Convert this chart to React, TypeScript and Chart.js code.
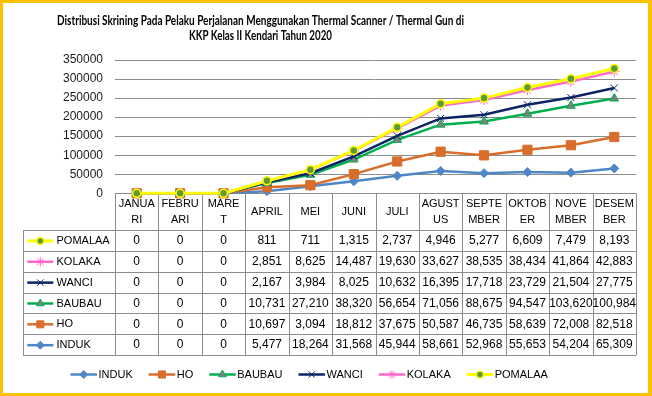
import React, { useEffect, useRef } from 'react';
import { Chart, registerables } from 'chart.js';
import { drawPoint } from 'chart.js/helpers';

Chart.register(...registerables);

const TITLE_LINES = [
  'Distribusi Skrining Pada Pelaku Perjalanan Menggunakan Thermal Scanner / Thermal Gun di',
  'KKP Kelas II Kendari Tahun 2020',
];

const MONTHS = ['JANUARI', 'FEBRUARI', 'MARET', 'APRIL', 'MEI', 'JUNI', 'JULI', 'AGUSTUS', 'SEPTEMBER', 'OKTOBER', 'NOVEMBER', 'DESEMBER'];
const MONTH_HEADER = [
  ['JANUA', 'RI'], ['FEBRU', 'ARI'], ['MARE', 'T'], ['APRIL'], ['MEI'], ['JUNI'], ['JULI'],
  ['AGUST', 'US'], ['SEPTE', 'MBER'], ['OKTOB', 'ER'], ['NOVE', 'MBER'], ['DESEM', 'BER'],
];

const INDUK = [0, 0, 0, 5477, 18264, 31568, 45944, 58661, 52968, 55653, 54204, 65309];
const HO = [0, 0, 0, 10697, 3094, 18812, 37675, 50587, 46735, 58639, 72008, 82518];
const BAUBAU = [0, 0, 0, 10731, 27210, 38320, 56654, 71056, 88675, 94547, 103620, 100984];
const WANCI = [0, 0, 0, 2167, 3984, 8025, 10632, 16395, 17718, 23729, 21504, 27775];
const KOLAKA = [0, 0, 0, 2851, 8625, 14487, 19630, 33627, 38535, 38434, 41864, 42883];
const POMALAA = [0, 0, 0, 811, 711, 1315, 2737, 4946, 5277, 6609, 7479, 8193];

const SERIES_NAMES = ['INDUK', 'HO', 'BAUBAU', 'WANCI', 'KOLAKA', 'POMALAA'];
const SERIES_VALUES = [INDUK, HO, BAUBAU, WANCI, KOLAKA, POMALAA];

const Y_MAX = 350000;
const Y_STEP = 50000;

type Sty = { line: string; lw: number; ps: any; r: number; kr: number; fill: string; border: string; bw: number };
const STYLES: Sty[] = [
  { line: '#4F87C6', lw: 2.5, ps: 'rectRot', r: 4.5, kr: 4, fill: '#4F87C6', border: '#4F87C6', bw: 1 },
  { line: '#D86D2C', lw: 2.5, ps: 'rect', r: 6.5, kr: 5, fill: '#D86D2C', border: '#D86D2C', bw: 1 },
  { line: '#00B050', lw: 2.5, ps: 'triangle', r: 5, kr: 4.5, fill: '#808080', border: '#00B050', bw: 1 },
  { line: '#0C2464', lw: 2.5, ps: 'crossRot', r: 5, kr: 4.5, fill: '#0C2464', border: '#0C2464', bw: 1 },
  { line: '#FF66CC', lw: 2.5, ps: 'star', r: 5, kr: 4.5, fill: '#FF66CC', border: '#FF66CC', bw: 1 },
  { line: '#FFFF00', lw: 3, ps: 'circle', r: 4, kr: 3.5, fill: '#5F9A38', border: '#FFFF00', bw: 1.5 },
];

const FONT = "'Liberation Sans', Arial, sans-serif";

function drawKey(ctx: CanvasRenderingContext2D, s: Sty, x0: number, x1: number, y: number) {
  ctx.save();
  ctx.strokeStyle = s.line;
  ctx.lineWidth = s.lw;
  ctx.beginPath();
  ctx.moveTo(x0, y);
  ctx.lineTo(x1, y);
  ctx.stroke();
  ctx.fillStyle = s.fill;
  ctx.strokeStyle = s.border;
  ctx.lineWidth = s.bw;
  drawPoint(ctx, { pointStyle: s.ps, radius: s.kr, borderWidth: s.bw, rotation: 0 } as any, (x0 + x1) / 2, y);
  ctx.restore();
}

const excelPlugin = {
  id: 'excelExtras',
  beforeDatasetsDraw(chart: any) {
    const ctx: CanvasRenderingContext2D = chart.ctx;
    const a = chart.chartArea;
    const n = MONTHS.length;
    const cw = (a.right - a.left) / n;
    const tableLeft = 23;
    const headTop = a.bottom;
    const headBottom = headTop + 36.7;
    const rowH = 20.85;
    const rows = SERIES_NAMES.length;
    const tableBottom = headBottom + rows * rowH;
    const crisp = (v: number) => Math.round(v) + 0.5;

    ctx.save();
    ctx.strokeStyle = '#8C8C8C';
    ctx.lineWidth = 1;
    ctx.beginPath();
    ctx.moveTo(a.left, crisp(headTop));
    ctx.lineTo(a.right, crisp(headTop));
    for (let r = 0; r <= rows; r++) {
      const y = crisp(headBottom + r * rowH);
      ctx.moveTo(tableLeft, y);
      ctx.lineTo(a.right, y);
    }
    for (let c = 0; c <= n; c++) {
      const x = crisp(a.left + c * cw);
      ctx.moveTo(x, headTop);
      ctx.lineTo(x, tableBottom);
    }
    ctx.moveTo(crisp(tableLeft), headBottom);
    ctx.lineTo(crisp(tableLeft), tableBottom);
    ctx.stroke();

    // header
    ctx.fillStyle = '#000';
    ctx.textAlign = 'center';
    ctx.textBaseline = 'middle';
    ctx.font = `11px ${FONT}`;
    const xs = chart.scales.x;
    MONTH_HEADER.forEach((lines, i) => {
      const cx = xs.getPixelForValue(i);
      if (lines.length === 1) {
        ctx.fillText(lines[0], cx, headTop + 18.5);
      } else {
        ctx.fillText(lines[0], cx, headTop + 10.5);
        ctx.fillText(lines[1], cx, headTop + 26.5);
      }
    });

    // rows (reverse order: top row = last series)
    for (let r = 0; r < rows; r++) {
      const si = rows - 1 - r;
      const cy = headBottom + r * rowH + rowH / 2 + 0.5;
      drawKey(ctx, STYLES[si], 27.3, 53.3, cy);
      ctx.fillStyle = '#000';
      ctx.textAlign = 'left';
      ctx.font = `11px ${FONT}`;
      ctx.fillText(SERIES_NAMES[si], 56.5, cy);
      ctx.textAlign = 'center';
      ctx.font = `12px ${FONT}`;
      SERIES_VALUES[si].forEach((v, i) => {
        ctx.fillText(v.toLocaleString('en-US'), xs.getPixelForValue(i), cy);
      });
    }
    ctx.restore();

    // datasets in index order so the last series sits on top
    const metas = chart.getSortedVisibleDatasetMetas().slice().sort((p: any, q: any) => p.index - q.index);
    metas.forEach((m: any) => m.controller.draw());
    return false;
  },
  afterDraw(chart: any) {
    const ctx: CanvasRenderingContext2D = chart.ctx;
    const W = chart.width;
    const H = chart.height;
    ctx.save();
    // title
    ctx.fillStyle = '#000';
    ctx.textAlign = 'center';
    ctx.textBaseline = 'middle';
    ctx.font = `bold 13px Lato, ${FONT}`;
    ctx.fillText(TITLE_LINES[0], 260.5, 21, 407);
    ctx.fillText(TITLE_LINES[1], 260.5, 35.5, 143);

    // legend
    ctx.font = `11px ${FONT}`;
    ctx.textAlign = 'left';
    const keyLen = 26.5;
    const gapText = 1.5;
    const gapItem = 16;
    const widths = SERIES_NAMES.map((s) => ctx.measureText(s).width);
    const total = widths.reduce((p, w) => p + keyLen + gapText + w, 0) + gapItem * (SERIES_NAMES.length - 1);
    let x = 309.2 - total / 2;
    const ly = 374.5;
    SERIES_NAMES.forEach((s, i) => {
      drawKey(ctx, STYLES[i], x, x + keyLen, ly);
      ctx.fillStyle = '#000';
      ctx.fillText(s, x + keyLen + gapText, ly);
      x += keyLen + gapText + widths[i] + gapItem;
    });

    // frame
    ctx.fillStyle = '#FFC000';
    ctx.fillRect(0, 0, W, 3);
    ctx.fillRect(0, H - 3, W, 3);
    ctx.fillRect(0, 0, 3, H);
    ctx.fillRect(W - 4, 0, 4, H);
    ctx.restore();
  },
};

export default function App() {
  const ref = useRef<HTMLCanvasElement | null>(null);
  useEffect(() => {
    document.body.style.margin = '0';
    const canvas = ref.current;
    if (!canvas) return;
    const chart = new Chart(canvas, {
      type: 'line',
      data: {
        labels: MONTHS,
        datasets: SERIES_NAMES.map((name, i) => ({
          label: name,
          data: SERIES_VALUES[i],
          borderColor: STYLES[i].line,
          backgroundColor: STYLES[i].fill,
          borderWidth: STYLES[i].lw,
          pointStyle: STYLES[i].ps,
          pointRadius: STYLES[i].r,
          pointBackgroundColor: STYLES[i].fill,
          pointBorderColor: STYLES[i].border,
          pointBorderWidth: STYLES[i].bw,
          tension: 0,
          fill: false,
          clip: false as any,
        })),
      },
      options: {
        responsive: false,
        animation: false,
        layout: { padding: { top: 60, left: 0, right: 16, bottom: 202.7 } },
        plugins: {
          legend: { display: false },
          tooltip: { enabled: false },
          title: { display: false },
        },
        scales: {
          x: {
            type: 'category',
            offset: true,
            grid: { display: false },
            ticks: { display: false },
            border: { display: false },
            afterFit: (s: any) => {
              s.height = 0;
            },
          },
          y: {
            stacked: true,
            min: 0,
            max: Y_MAX,
            ticks: {
              stepSize: Y_STEP,
              padding: 12,
              color: '#1a1a1a',
              font: { family: FONT, size: 12 },
              callback: (v: any) => String(v),
            },
            grid: { color: '#8C8C8C', drawTicks: false, lineWidth: 1 },
            border: { display: false },
            afterFit: (s: any) => {
              s.width = 115;
              s.paddingTop = 0;
              s.paddingBottom = 0;
            },
          },
        },
      },
      plugins: [excelPlugin],
    });
    return () => chart.destroy();
  }, []);
  return <canvas ref={ref} width={652} height={396} style={{ display: 'block' }} />;
}
